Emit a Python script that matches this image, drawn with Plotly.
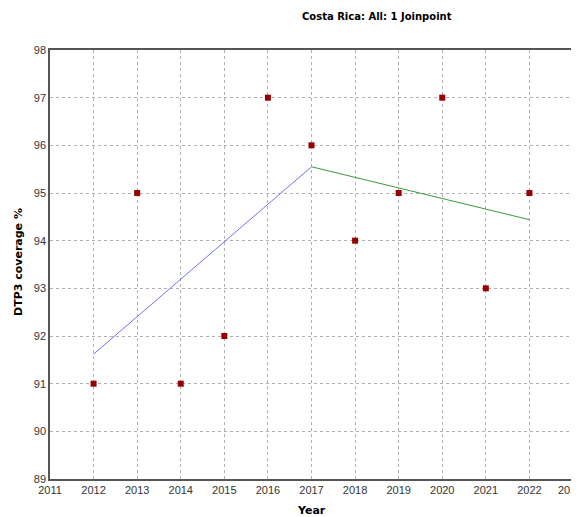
import plotly.graph_objects as go

years = [2012, 2013, 2014, 2015, 2016, 2017, 2018, 2019, 2020, 2021, 2022]
coverage = [91, 95, 91, 92, 97, 96, 94, 95, 97, 93, 95]

seg1_x = [2012, 2017]
seg1_y = [91.62, 95.55]
seg2_x = [2017, 2022]
seg2_y = [95.55, 94.44]

x_ticks = list(range(2011, 2024))
y_ticks = list(range(89, 99))

fig = go.Figure()
fig.add_trace(go.Scatter(x=seg1_x, y=seg1_y, mode="lines",
                         line=dict(color="#7070ff", width=1), showlegend=False))
fig.add_trace(go.Scatter(x=seg2_x, y=seg2_y, mode="lines",
                         line=dict(color="#3c9a3c", width=1), showlegend=False))
fig.add_trace(go.Scatter(x=years, y=coverage, mode="markers",
                         marker=dict(symbol="square", size=6, color="#990000"),
                         showlegend=False))

OFF = 8  # page body margin
W, H = 579 - OFF, 517 - OFF
L, T = 50 - OFF, 50 - OFF
R = 579 - 573
B = 517 - 479
pw, ph = W - L - R, H - T - B


def px(xw):
    return (xw - OFF - L) / pw


def py(yw):
    return 1 - (yw - OFF - T) / ph


TICKFONT = dict(family="Liberation Sans Narrow, Liberation Sans", size=11, color="#333333")

fig.update_layout(
    width=W, height=H,
    margin=dict(l=L, r=R, t=T, b=B),
    paper_bgcolor="white", plot_bgcolor="white",
    font=TICKFONT,
    xaxis=dict(range=[2011, 2023], tickvals=x_ticks[:-1], ticktext=[str(v) for v in x_ticks[:-1]],
               showgrid=True, gridcolor="#b0b0b0", griddash="dot", gridwidth=1,
               showline=True, linecolor="#555555", linewidth=1.5, mirror=True,
               ticks="", zeroline=False, automargin=False, tickfont=TICKFONT),
    yaxis=dict(range=[89, 98], tickvals=y_ticks,
               showgrid=True, gridcolor="#b0b0b0", griddash="dot", gridwidth=1,
               showline=True, linecolor="#555555", linewidth=1.5, mirror=True,
               ticks="", zeroline=False, automargin=False, tickfont=TICKFONT),
    annotations=[
        dict(text="<b>Costa Rica: All: 1 Joinpoint</b>",
             x=px(377), y=py(16),
             xref="paper", yref="paper", showarrow=False,
             xanchor="center", yanchor="middle",
             font=dict(family="DejaVu Sans", size=10, color="#000000")),
        dict(text="<b>Year</b>",
             x=px(311), y=py(510),
             xref="paper", yref="paper", showarrow=False,
             xanchor="center", yanchor="middle",
             font=dict(family="DejaVu Sans", size=11, color="#000000")),
        dict(text="<b>DTP3 coverage %</b>", textangle=-90,
             x=px(19), y=py(262),
             xref="paper", yref="paper", showarrow=False,
             xanchor="center", yanchor="middle",
             font=dict(family="DejaVu Sans", size=11, color="#000000")),
        dict(text=str(x_ticks[-1]), x=x_ticks[-1], xref="x", xshift=-3,
             y=py(490), yref="paper", showarrow=False,
             xanchor="center", yanchor="middle", font=TICKFONT),
    ],
)
fig.write_html("out.html")
